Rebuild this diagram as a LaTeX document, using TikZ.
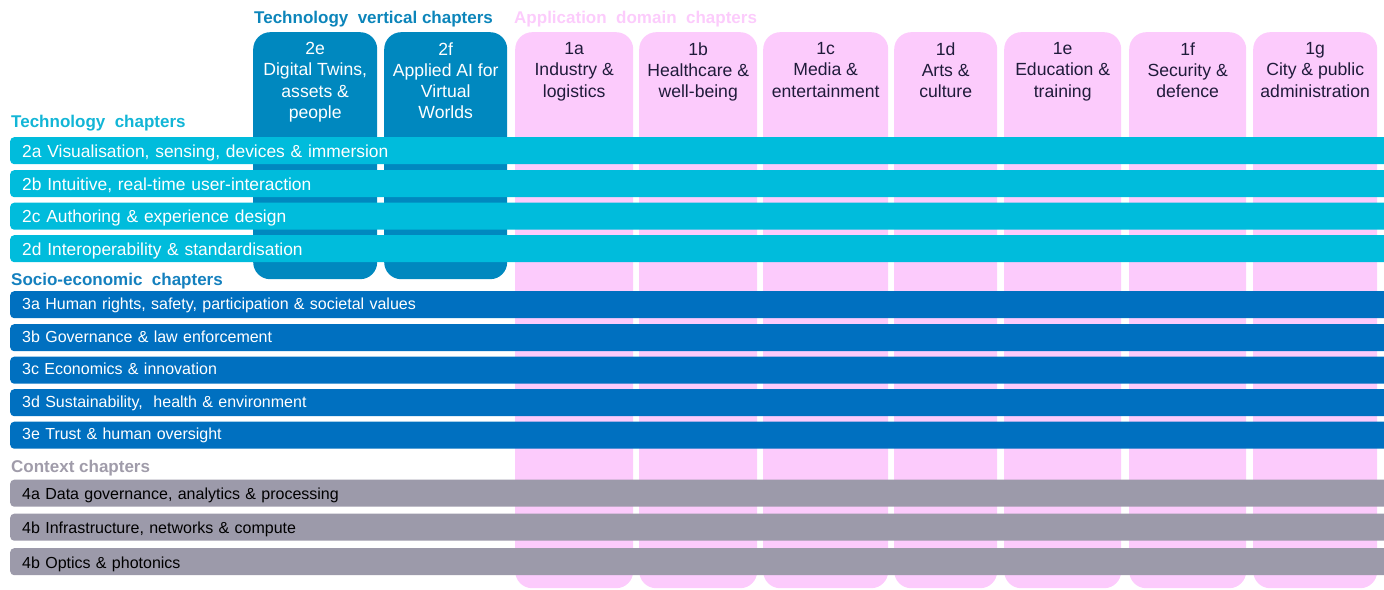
\documentclass[tikz,border=0pt]{standalone}
\usepackage{fontspec}
\setmainfont{Liberation Sans}
\definecolor{cyanbar}{HTML}{00BCDC}
\definecolor{vertcol}{HTML}{0088BF}
\definecolor{sociobar}{HTML}{0070C0}
\definecolor{ctxbar}{HTML}{9C9AAA}
\definecolor{pinkcol}{HTML}{FCCBFC}
\definecolor{pinktext}{HTML}{1F1B3A}
\definecolor{ttlvert}{HTML}{0C85BA}
\definecolor{ttlapp}{HTML}{FCCCFC}
\definecolor{ttltech}{HTML}{12B5D6}
\definecolor{ttlsocio}{HTML}{1480BE}
\definecolor{ttlctx}{HTML}{A09CAA}
\begin{document}
\begin{tikzpicture}[x=1pt,y=-1pt,
  colbox/.style={rounded corners=17pt, inner sep=0pt, anchor=north west, minimum height=#1},
  coltext/.style={font=\fontsize{17.6}{21.2}\selectfont, align=center, inner sep=0pt, anchor=north},
  barbox/.style={fill=#1, rounded corners=4pt, anchor=north west, minimum height=27pt,
     inner xsep=12pt, inner ysep=0pt, text width=1376pt, align=left, text=white,
     text height=17pt, text depth=4pt, font=\fontsize{16}{18}\selectfont},
  ttl/.style={text=#1, font=\fontsize{17}{19}\selectfont\bfseries, anchor=base west, inner sep=0pt}]
\useasboundingbox (0,0) rectangle (1384,589);
\clip (0,0) rectangle (1384,589);
% application domain columns
\foreach \n/\l/\r/\t in {
  1a/515/633/{1a\\Industry \&\\logistics},
  1b/639/757/{1b\\Healthcare \&\\well-being},
  1c/763/888/{1c\\Media \&\\entertainment},
  1d/894/997/{1d\\Arts \&\\culture},
  1e/1004/1121/{1e\\Education \&\\training},
  1f/1129/1246/{1f\\Security \&\\defence},
  1g/1253/1377/{1g\\City \& public\\administration}}{
  \node[colbox=556pt, fill=pinkcol, minimum width={(\r-\l)*1pt}] (c\n) at (\l,32) {};
  \node[coltext, text=pinktext] (t\n) at ([yshift=-10.3pt]c\n.north) {\t};
}
% technology vertical columns
\foreach \n/\l/\r/\t in {
  2e/253/377/{2e\\Digital Twins,\\assets \&\\people},
  2f/384/507/{2f\\Applied AI for\\Virtual\\Worlds}}{
  \node[colbox=247pt, fill=vertcol, minimum width={(\r-\l)*1pt}] (c\n) at (\l,32) {};
  \node[coltext, text=white] (t\n) at ([yshift=-10.3pt]c\n.north) {\t};
}
% titles
\node[ttl=ttlvert] (hv) at (254,23.5) {Technology\ \ vertical chapters};
\node[ttl=ttlapp] (ha) at (514,23.5) {Application\ \ domain\ \ chapters};
\node[ttl=ttltech] (ht) at (11,127) {Technology\ \ chapters};
\node[ttl=ttlsocio] (hs) at (11,285) {Socio-economic\ \ chapters};
\node[ttl=ttlctx] (hc) at (11,472) {Context chapters};
% technology bars
\tikzset{techbar/.style={barbox=cyanbar, font=\fontsize{17.4}{19}\selectfont}}
\node[techbar] (b2a) at (10,137) {2a Visualisation,\ sensing,\ devices \& immersion};
\node[techbar] (b2b) at (10,170) {2b Intuitive,\ real-time user-interaction};
\node[techbar] (b2c) at (10,202.5) {2c Authoring \& experience design};
\node[techbar] (b2d) at (10,235) {2d Interoperability \& standardisation};
% socio-economic bars
\tikzset{sociob/.style={barbox=sociobar, text height=14pt, text depth=5pt}}
\node[sociob] (b3a) at (10,291) {3a Human rights,\ safety,\ participation \& societal values};
\node[sociob] (b3b) at (10,324) {3b Governance \& law\ enforcement};
\node[sociob] (b3c) at (10,356.5) {3c Economics \& innovation};
\node[sociob] (b3d) at (10,389) {3d Sustainability,\ \ health \& environment};
\node[sociob] (b3e) at (10,421.5) {3e Trust \& human\ oversight};
% context bars
\tikzset{ctx/.style={barbox=ctxbar, text=black}}
\node[ctx] (b4a) at (10,479.5) {4a Data governance,\ analytics \& processing};
\node[ctx] (b4b) at (10,513.5) {4b Infrastructure, networks \& compute};
\node[ctx] (b4c) at (10,548) {4b Optics \& photonics};
\end{tikzpicture}
\end{document}
